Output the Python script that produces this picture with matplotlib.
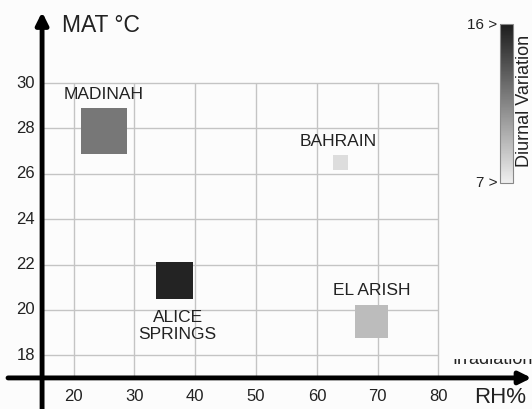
import matplotlib
matplotlib.use("Agg")
import matplotlib.pyplot as plt
from matplotlib.colors import LinearSegmentedColormap, Normalize
from matplotlib.cm import ScalarMappable
from matplotlib.transforms import Bbox
import numpy as np

plt.rcParams['font.family'] = ['Liberation Sans', 'DejaVu Sans']

# data
cities = ["MADINAH", "ALICE\nSPRINGS", "BAHRAIN", "EL ARISH"]
rh = [25.0, 36.6, 63.9, 69.0]
mat = [27.9, 21.3, 26.5, 19.5]
diurnal = [12.1, 15.7, 7.8, 9.2]
irradiation = [46, 37, 15, 33]   # relative (square side)

xticks = [20, 30, 40, 50, 60, 70, 80]
yticks = [18, 20, 22, 24, 26, 28, 30]
dv_min, dv_max = 7, 16

W, H = 532, 409
fig = plt.figure(figsize=(W / 100, H / 100), dpi=100)
fig.patch.set_facecolor('#fcfcfc')
ax = fig.add_axes([0, 0, 1, 1])
ax.set_xlim(7.88, 95.38)
ax.set_ylim(15.63, 33.66)
ax.axis('off')

x0, y0 = 14.8, 17.0   # where the axes cross

# grid
ax.vlines(xticks, y0, 30, color='#c4c4c4', lw=1, zorder=1)
ax.hlines(yticks, x0, 80, color='#c4c4c4', lw=1, zorder=1)

# axes arrows
ax.annotate('', xy=(x0, 33.13), xytext=(x0, 15.5),
            arrowprops=dict(arrowstyle='-|>', lw=3.5, color='black',
                            mutation_scale=18, shrinkA=0, shrinkB=0), zorder=5)
ax.annotate('', xy=(95.3, y0), xytext=(9.2, y0),
            arrowprops=dict(arrowstyle='-|>', lw=3.5, color='black',
                            mutation_scale=18, shrinkA=0, shrinkB=0), zorder=5)

for t in yticks:
    ax.text(13.64, t, str(t), ha='right', va='center', fontsize=12, color='#222')
for t in xticks:
    ax.text(t, 16.17, str(t), ha='center', va='center', fontsize=12, color='#222')

ax.text(18.08, 32.26, "MAT °C", ha='left', va='baseline', fontsize=16.5, color='#222')
ax.text(85.88, 16.12, "RH%", ha='left', va='center', fontsize=16, color='#222')

# squares
cmap = LinearSegmentedColormap.from_list('dv', ['#efefef', '#1c1c1c'])
norm = Normalize(dv_min, dv_max)
sides_pt = np.array(irradiation) * 0.72
ax.scatter(rh, mat, s=sides_pt ** 2, marker='s', c=diurnal, cmap=cmap,
           norm=norm, linewidths=0, zorder=3)

label_pos = [(24.99, 29.50), (37.09, 19.28), (63.58, 27.41), (69.1, 20.85)]
for name, (lx, ly) in zip(cities, label_pos):
    ax.text(lx, ly, name, ha='center', va='center', fontsize=12.5,
            color='#222', linespacing=1.15, multialignment='center')

# colour bar
cax = fig.add_axes([500 / W, 1 - 183 / H, 12.5 / W, 159 / H])
cb = fig.colorbar(ScalarMappable(norm=norm, cmap=cmap), cax=cax)
cb.set_ticks([])
cb.outline.set_edgecolor('#888')
cb.outline.set_linewidth(0.8)
fig.text(497 / W, 1 - 25 / H, "16 >", ha='right', va='center', fontsize=11, color='#222')
fig.text(497 / W, 1 - 183 / H, "7 >", ha='right', va='center', fontsize=11, color='#222')
fig.text(516 / W, 1 - 101 / H, "Diurnal Variation", rotation=90, ha='left',
         va='center', fontsize=13, color='#222')

# clipped legend text at lower right
irr = fig.text(452 / W, 1 - 364 / H, "Irradiation", ha='left', va='baseline',
               fontsize=13, color='#222')
irr.set_clip_box(Bbox.from_extents(0, 0, W, H - 359))
irr.set_clip_on(True)

fig.savefig("out.png", dpi=100, facecolor=fig.get_facecolor())
